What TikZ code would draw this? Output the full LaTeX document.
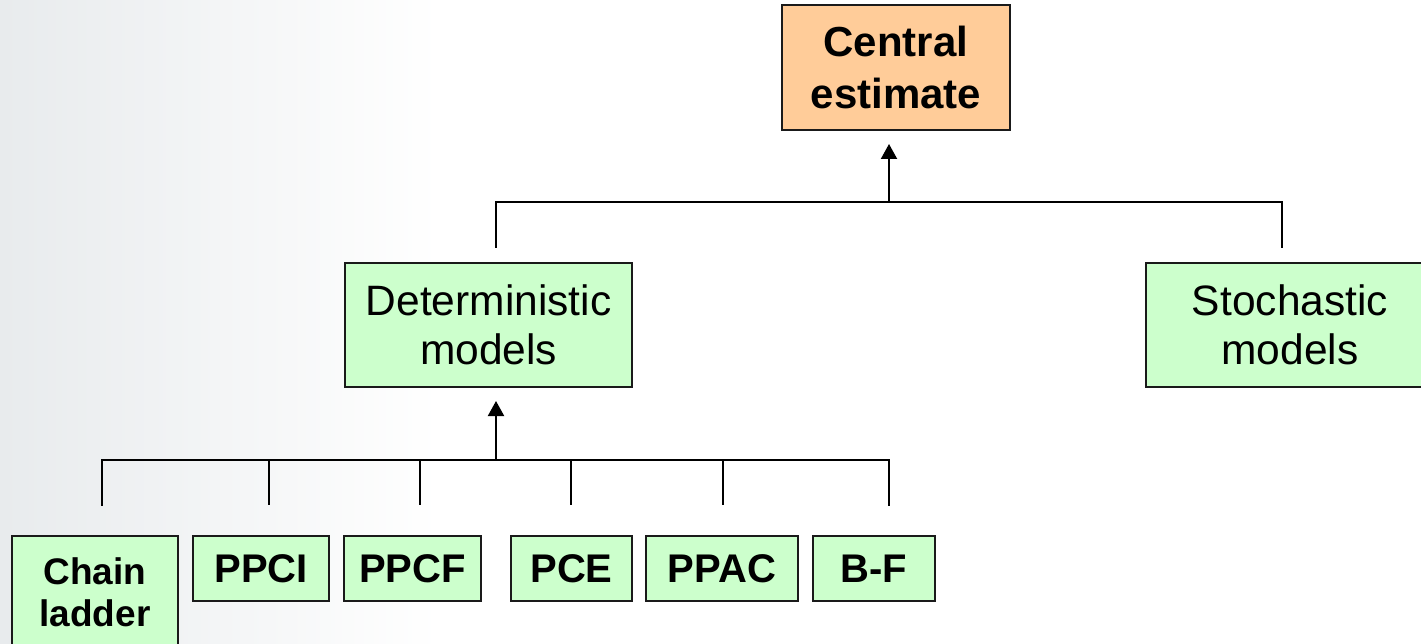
\documentclass[tikz,border=0pt]{standalone}
\usepackage{fontspec}
\setmainfont{Liberation Sans}
\usetikzlibrary{arrows.meta}
\definecolor{boxgreen}{HTML}{CCFFCC}
\definecolor{boxorange}{HTML}{FFCC99}
\definecolor{edge}{HTML}{1A1A1A}
\definecolor{haze}{HTML}{E8EBED}
\begin{document}
\begin{tikzpicture}[x=1pt,y=-1pt,
  box/.style={draw=edge, line width=2pt, inner sep=0pt, align=center},
  greenbox/.style={box, fill=boxgreen},
  bigtext/.style={font=\fontsize{42.5}{49}\selectfont},
  boldtext/.style={font=\fontsize{40}{44}\selectfont\bfseries},
  wire/.style={draw=black, line width=2pt},
  uparrow/.style={wire, -{Triangle[length=15pt,width=16pt]}, shorten >=13pt}]
  \clip (0,0) rectangle (1421,644);
  % soft backdrop
  \fill[white] (0,0) rectangle (1421,644);
  \shade[left color=haze, right color=white] (0,0) rectangle (440,644);

  % top level
  \node[box, fill=boxorange, font=\fontsize{42}{52}\selectfont\bfseries,
        minimum width=228pt, minimum height=125pt] (central) at (896,67.5) {Central\\estimate};

  % middle level
  \node[greenbox, bigtext, minimum width=287pt, minimum height=124pt] (det) at (488.5,325) {Deterministic\\models};
  \node[greenbox, bigtext, minimum width=288pt, minimum height=124pt] (sto) at (1290,325) {Stochastic\\models};

  % bottom level
  \node[greenbox, font=\fontsize{37}{42}\selectfont\bfseries,
        minimum width=166pt, minimum height=112pt] (cl) at (95,592) {Chain\\ladder};
  \node[greenbox, boldtext, minimum width=136pt, minimum height=65pt] (ppci) at (261,568.5) {PPCI};
  \node[greenbox, boldtext, minimum width=137pt, minimum height=65pt] (ppcf) at (412.5,568.5) {PPCF};
  \node[greenbox, boldtext, minimum width=121pt, minimum height=65pt] (pce) at (571.5,568.5) {PCE};
  \node[greenbox, boldtext, minimum width=152pt, minimum height=65pt] (ppac) at (722,568.5) {PPAC};
  \node[greenbox, boldtext, minimum width=122pt, minimum height=65pt] (bf) at (874,568.5) {B-F};

  % upper bus
  \coordinate (ua) at (496,202);
  \coordinate (ub) at (1282,202);
  \coordinate (um) at (889,202);
  \coordinate (uad) at (496,247);
  \coordinate (ubd) at (1282,247);
  \draw[wire, line cap=rect] (uad) -- (ua) -- (ub) -- (ubd);
  \draw[uparrow] (um) -- (um |- central.south);

  % lower bus
  \coordinate (la) at (102,460);
  \coordinate (lb) at (889,460);
  \coordinate (lm) at (496,460);
  \coordinate (lad) at (102,505);
  \coordinate (lbd) at (889,505);
  \draw[wire, line cap=rect] (lad) -- (la) -- (lb) -- (lbd);
  \foreach \x in {269,420,571,723} \draw[wire] (\x,460) -- (\x,505);
  \draw[uparrow] (lm) -- (lm |- det.south);
\end{tikzpicture}
\end{document}
